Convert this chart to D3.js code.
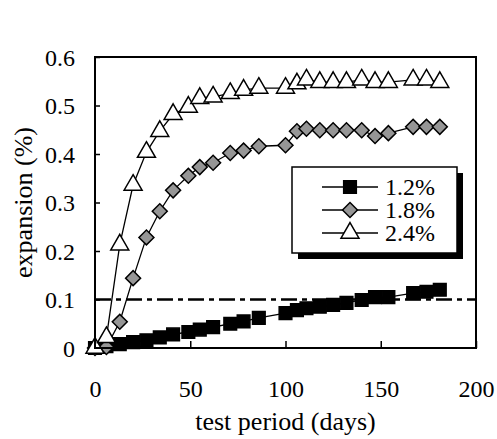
<!DOCTYPE html>
<html>
<head>
<meta charset="utf-8">
<script src="https://cdn.jsdelivr.net/npm/d3@7"></script>
<style>
  body { margin: 0; background: #fff; }
  svg { display: block; }
  text { font-family: "Liberation Serif", "Times New Roman", serif; fill: #000; }
</style>
</head>
<body>
<svg id="chart"></svg>
<script>
// test days (shared by all series)
const days = [0, 6, 13, 20, 27, 34, 41, 49, 55, 62, 71, 78, 86, 100, 106, 111, 118, 125, 132, 140, 147, 154, 167, 174, 181];

const exp12 = [0, 0.004, 0.008, 0.012, 0.016, 0.022, 0.028, 0.033, 0.038, 0.043, 0.05, 0.055, 0.062,
  0.072, 0.078, 0.082, 0.085, 0.089, 0.093, 0.099, 0.105, 0.105, 0.113, 0.116, 0.12];
const exp18 = [0, 0.002, 0.054, 0.144, 0.228, 0.282, 0.325, 0.355, 0.373, 0.382, 0.402, 0.407, 0.416,
  0.418, 0.447, 0.452, 0.449, 0.449, 0.449, 0.449, 0.437, 0.443, 0.456, 0.456, 0.456];
const exp24 = [0, 0.022, 0.213, 0.336, 0.404, 0.447, 0.482, 0.497, 0.515, 0.518, 0.525, 0.532, 0.536,
  0.536, 0.545, 0.553, 0.548, 0.548, 0.548, 0.553, 0.548, 0.548, 0.553, 0.553, 0.548];

const seriesNames = ['1.2%', '1.8%', '2.4%'];
const xTicks = [0, 50, 100, 150, 200];
const yTicks = [0, 0.1, 0.2, 0.3, 0.4, 0.5, 0.6];
const limitValue = 0.1;

const width = 497;
const height = 439;
const margin = { top: 57, right: 21, bottom: 91, left: 95 };

const svg = d3.select('#chart')
  .attr('width', width)
  .attr('height', height);

const x = d3.scaleLinear().domain([0, 200]).range([margin.left, width - margin.right]);
const y = d3.scaleLinear().domain([0, 0.6]).range([height - margin.bottom, margin.top]);

// axes (ticks point inward)
const xAxis = svg.append('g')
  .attr('transform', `translate(0,${y(0)})`)
  .call(d3.axisBottom(x).tickValues(xTicks).tickSize(-7).tickPadding(32).tickFormat(d3.format('d')));
const yAxis = svg.append('g')
  .attr('transform', `translate(${x(0)},0)`)
  .call(d3.axisLeft(y).tickValues(yTicks).tickSize(-5).tickPadding(20)
    .tickFormat((d) => (d === 0 ? '0' : d.toFixed(1))));

[xAxis, yAxis].forEach((a) => {
  a.select('.domain').remove();
  a.selectAll('line').attr('stroke', '#000').attr('stroke-width', 1.5);
  a.selectAll('text').attr('font-size', 24).attr('font-family', '"Liberation Serif", serif');
});
yAxis.selectAll('text').attr('dy', '0.34em');

// dash-dot limit line
svg.append('line')
  .attr('x1', x(0)).attr('x2', x(200))
  .attr('y1', y(limitValue)).attr('y2', y(limitValue))
  .attr('stroke', '#000')
  .attr('stroke-width', 2.5)
  .attr('stroke-dasharray', '16,5,5,5');

const line = d3.line()
  .x((d) => x(d[0]))
  .y((d) => y(d[1]));

const symbols = {
  square: d3.symbol().type(d3.symbolSquare).size(160),
  diamond: d3.symbol().type(d3.symbolSquare).size(112),
  triangle: d3.symbol().type(d3.symbolTriangle).size(140),
};

const series = [
  { name: seriesNames[0], values: exp12, symbol: symbols.square, rot: 0, fill: '#000' },
  { name: seriesNames[1], values: exp18, symbol: symbols.diamond, rot: 45, fill: '#969696' },
  { name: seriesNames[2], values: exp24, symbol: symbols.triangle, rot: 0, fill: '#fff' },
];

series.forEach((s) => {
  const pts = days.map((d, i) => [d, s.values[i]]);
  const g = svg.append('g');
  g.append('path')
    .attr('d', line(pts))
    .attr('fill', 'none')
    .attr('stroke', '#000')
    .attr('stroke-width', 1.3);
  g.selectAll('path.mark')
    .data(pts)
    .enter()
    .append('path')
    .attr('class', 'mark')
    .attr('d', s.symbol)
    .attr('transform', (d) => `translate(${x(d[0])},${y(d[1])}) rotate(${s.rot})`)
    .attr('fill', s.fill)
    .attr('stroke', '#000')
    .attr('stroke-width', 1.5);
});

// plot frame
svg.append('rect')
  .attr('x', x(0)).attr('y', y(0.6))
  .attr('width', x(200) - x(0))
  .attr('height', y(0) - y(0.6))
  .attr('fill', 'none')
  .attr('stroke', '#000')
  .attr('stroke-width', 2);

// legend with drop shadow
const legend = svg.append('g').attr('transform', 'translate(292,167)');
legend.append('rect')
  .attr('x', 6).attr('y', 6)
  .attr('width', 165).attr('height', 86)
  .attr('fill', '#000');
legend.append('rect')
  .attr('width', 165).attr('height', 86)
  .attr('fill', '#fff')
  .attr('stroke', '#000')
  .attr('stroke-width', 1.5);

series.forEach((s, i) => {
  const row = legend.append('g').attr('transform', `translate(0,${20 + i * 23})`);
  row.append('line')
    .attr('x1', 30).attr('x2', 86)
    .attr('stroke', '#000').attr('stroke-width', 1.3);
  row.append('path')
    .attr('d', s.symbol)
    .attr('transform', `translate(58,0) rotate(${s.rot})`)
    .attr('fill', s.fill)
    .attr('stroke', '#000')
    .attr('stroke-width', 1.5);
  row.append('text')
    .attr('x', 93)
    .attr('dy', '0.34em')
    .attr('font-size', 24)
    .text(s.name);
});

// axis titles
svg.append('text')
  .attr('x', (x(0) + x(200)) / 2)
  .attr('y', 430)
  .attr('text-anchor', 'middle')
  .attr('font-size', 26)
  .text('test period (days)');

svg.append('text')
  .attr('transform', `translate(32,${(y(0) + y(0.6)) / 2}) rotate(-90)`)
  .attr('text-anchor', 'middle')
  .attr('font-size', 26)
  .text('expansion (%)');
</script>
</body>
</html>
